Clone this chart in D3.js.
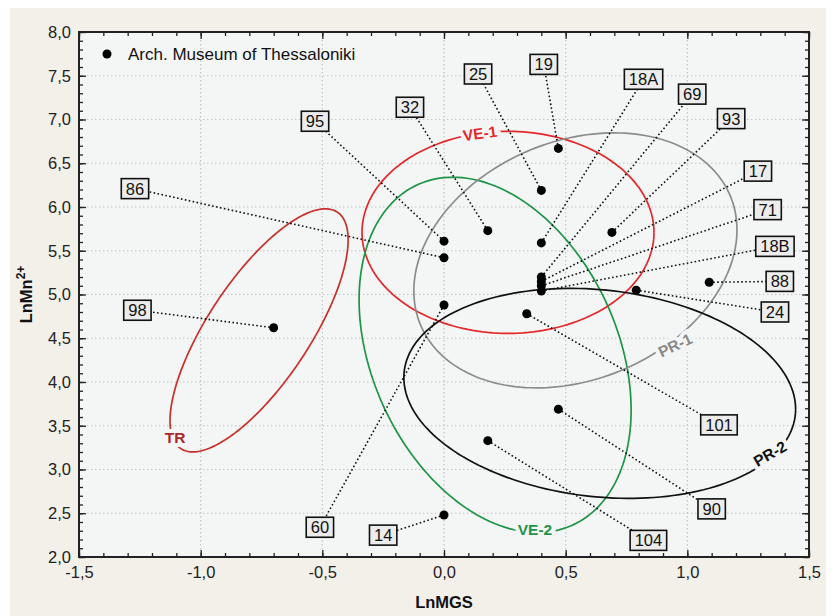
<!DOCTYPE html>
<html><head><meta charset="utf-8">
<script src="https://cdn.jsdelivr.net/npm/d3@7"></script>
<style>
body{margin:0;background:#fff;}
text{font-family:"Liberation Sans",Arial,Helvetica,sans-serif;}
</style>
</head><body>
<svg id="c" width="834" height="616"></svg>
<script>
// ---- data ----
const sampleIds = ["98","86","95","60","14","32","25","19","18A","93","69","17","71","18B","88","24","101","90","104"];
const lnMGS   = [-0.70, 0.00, 0.00, 0.00, 0.00, 0.18, 0.40, 0.47, 0.40, 0.69, 0.40, 0.40, 0.40, 0.40, 1.09, 0.79, 0.34, 0.47, 0.18];
const lnMn    = [ 4.62, 5.42, 5.61, 4.88, 2.48, 5.73, 6.19, 6.67, 5.59, 5.71, 5.20, 5.15, 5.10, 5.04, 5.14, 5.05, 4.78, 3.69, 3.33];
const labelX  = [-1.26,-1.27,-0.53,-0.51,-0.25,-0.14, 0.14, 0.41, 0.82, 1.18, 1.02, 1.29, 1.33, 1.36, 1.38, 1.36, 1.13, 1.10, 0.84];
const labelY  = [ 4.82, 6.21, 6.98, 2.34, 2.25, 7.14, 7.52, 7.63, 7.46, 7.01, 7.29, 6.41, 5.97, 5.55, 5.15, 4.80, 3.51, 2.55, 2.19];

const groupNames = ["VE-1","VE-2","PR-1","PR-2","TR"];
const groupCx    = [0.263, 0.21, 0.54, 0.64, -0.76];
const groupCy    = [5.71, 4.31, 5.39, 3.87, 4.59];
const groupHalfX = [0.600, 0.559, 0.664, 0.805, 0.366];
const groupHalfY = [1.154, 2.03, 1.457, 1.20, 1.389];
const groupSkew  = [0.00, -0.63, 0.349, -0.18, 1.034];
const groupColors= ["#e3282c","#1e9447","#8c8c8c","#111111","#c8302c"];
const groupLabelColors = ["#e3282c","#1e9447","#888888","#111111","#a8282a"];
const groupLabelX = [0.148, 0.374, 0.95, 1.34, -1.105];
const groupLabelY = [6.84, 2.31, 4.42, 3.18, 3.37];
const groupLabelRot = [-8, 0, -25, -30, 0];

const xTicks = [-1.5,-1.0,-0.5,0.0,0.5,1.0,1.5];
const yTicks = [2.0,2.5,3.0,3.5,4.0,4.5,5.0,5.5,6.0,6.5,7.0,7.5,8.0];
const xLabel = "LnMGS";
const legendLabel = "Arch. Museum of Thessaloniki";

// ---- layout ----
const svg = d3.select("#c");
const L = 79, R = 809, T = 32, B = 557;
const x = d3.scaleLinear().domain([-1.5, 1.5]).range([L, R]);
const y = d3.scaleLinear().domain([2, 8]).range([B, T]);
const fmt = v => d3.format(".1f")(v).replace(".", ",").replace("−","-");

svg.append("rect").attr("x",10).attr("y",8).attr("width",816).attr("height",608).attr("fill","#f3f0ea");
svg.append("rect").attr("x",L).attr("y",T).attr("width",R-L).attr("height",B-T).attr("fill","#f4f5f5");

// grid
const grid = svg.append("g").attr("stroke","#c4c4c4").attr("stroke-width",1.2).attr("stroke-dasharray","1.5,2.5");
grid.selectAll(".gx").data(xTicks.slice(1,-1)).join("line")
  .attr("x1",d=>x(d)).attr("x2",d=>x(d)).attr("y1",T).attr("y2",B);
grid.selectAll(".gy").data(yTicks.slice(1,-1)).join("line")
  .attr("y1",d=>y(d)).attr("y2",d=>y(d)).attr("x1",L).attr("x2",R);

// ticks (inward)
const xMinor = d3.range(-15, 16).map(i=>i/10);
const yMinor = d3.range(20, 81).map(i=>i/10);
function axisG(axis, tx, ty){
  const g = svg.append("g").attr("transform",`translate(${tx},${ty})`).call(axis);
  g.select(".domain").remove();
  g.selectAll("line").attr("stroke","#222").attr("stroke-width",1.3);
  g.selectAll("text").attr("font-size",16.5).attr("fill","#222").attr("font-family","Liberation Sans, Arial, sans-serif");
  return g;
}
axisG(d3.axisBottom(x).tickValues(xMinor).tickSize(-4).tickFormat(""), 0, B);
axisG(d3.axisTop(x).tickValues(xMinor).tickSize(-4).tickFormat(""), 0, T);
axisG(d3.axisLeft(y).tickValues(yMinor).tickSize(-4).tickFormat(""), L, 0);
axisG(d3.axisRight(y).tickValues(yMinor).tickSize(-4).tickFormat(""), R, 0);
axisG(d3.axisBottom(x).tickValues(xTicks).tickSize(-7).tickPadding(9).tickFormat(fmt), 0, B);
axisG(d3.axisTop(x).tickValues(xTicks).tickSize(-7).tickFormat(""), 0, T);
axisG(d3.axisLeft(y).tickValues(yTicks).tickSize(-7).tickPadding(8).tickFormat(fmt), L, 0);
axisG(d3.axisRight(y).tickValues(yTicks).tickSize(-7).tickFormat(""), R, 0);

// ellipses
const ts = d3.range(0, 361, 2).map(d=>d*Math.PI/180);
const line = d3.line().x(d=>x(d[0])).y(d=>y(d[1]));
groupNames.forEach((n,i)=>{
  const s = Math.sqrt(groupHalfY[i]**2 - groupSkew[i]**2);
  const pts = ts.map(t=>[groupCx[i] + groupHalfX[i]*Math.cos(t), groupCy[i] + groupSkew[i]*Math.cos(t) + s*Math.sin(t)]);
  svg.append("path").attr("d", line(pts)).attr("fill","none").attr("stroke",groupColors[i]).attr("stroke-width",1.7);
});
groupNames.forEach((n,i)=>{
  svg.append("text").attr("transform",`translate(${x(groupLabelX[i])},${y(groupLabelY[i])}) rotate(${groupLabelRot[i]})`)
    .attr("text-anchor","middle").attr("dy","0.35em").attr("font-size",15.5).attr("font-weight","bold")
    .attr("fill",groupLabelColors[i]).attr("stroke","#f4f5f5").attr("stroke-width",8).attr("paint-order","stroke")
    .text(n);
});

// leader lines
const idx = d3.range(sampleIds.length);
svg.append("g").selectAll("line").data(idx).join("line")
  .attr("x1",i=>x(lnMGS[i])).attr("y1",i=>y(lnMn[i]))
  .attr("x2",i=>x(labelX[i])).attr("y2",i=>y(labelY[i]))
  .attr("stroke","#111").attr("stroke-width",1.6).attr("stroke-dasharray","1.6,2.4");

// points
svg.append("g").selectAll("circle").data(idx).join("circle")
  .attr("cx",i=>x(lnMGS[i])).attr("cy",i=>y(lnMn[i])).attr("r",4.5).attr("fill","#000");

// label boxes
const boxes = svg.append("g").selectAll("g").data(idx).join("g")
  .attr("transform",i=>`translate(${x(labelX[i])},${y(labelY[i])})`);
boxes.append("text").attr("text-anchor","middle").attr("dy","0.36em").attr("font-size",16.5).attr("fill","#111")
  .text(i=>sampleIds[i]);
boxes.each(function(){
  const g = d3.select(this); const t = g.select("text"); const bb = t.node().getBBox();
  g.insert("rect","text").attr("x",bb.x-4.5).attr("y",-10).attr("width",bb.width+9).attr("height",20)
    .attr("fill","#ececec").attr("stroke","#111").attr("stroke-width",1.6);
});

// frame
svg.append("rect").attr("x",L).attr("y",T).attr("width",R-L).attr("height",B-T)
  .attr("fill","none").attr("stroke","#222").attr("stroke-width",2);

// legend
svg.append("circle").attr("cx",107).attr("cy",54).attr("r",4.5).attr("fill","#000");
svg.append("text").attr("x",128).attr("y",54).attr("dy","0.35em").attr("font-size",17).attr("fill","#111").text(legendLabel);

// axis titles
svg.append("text").attr("x",(L+R)/2).attr("y",608).attr("text-anchor","middle").attr("font-size",16.5).attr("font-weight","bold").attr("fill","#111").text(xLabel);
const yt = svg.append("text").attr("transform",`translate(32,${(T+B)/2}) rotate(-90)`).attr("text-anchor","middle")
  .attr("font-size",16.5).attr("font-weight","bold").attr("fill","#111");
yt.append("tspan").text("LnMn");
yt.append("tspan").attr("dy",-7).attr("font-size",12).text("2+");
</script>
</body></html>
